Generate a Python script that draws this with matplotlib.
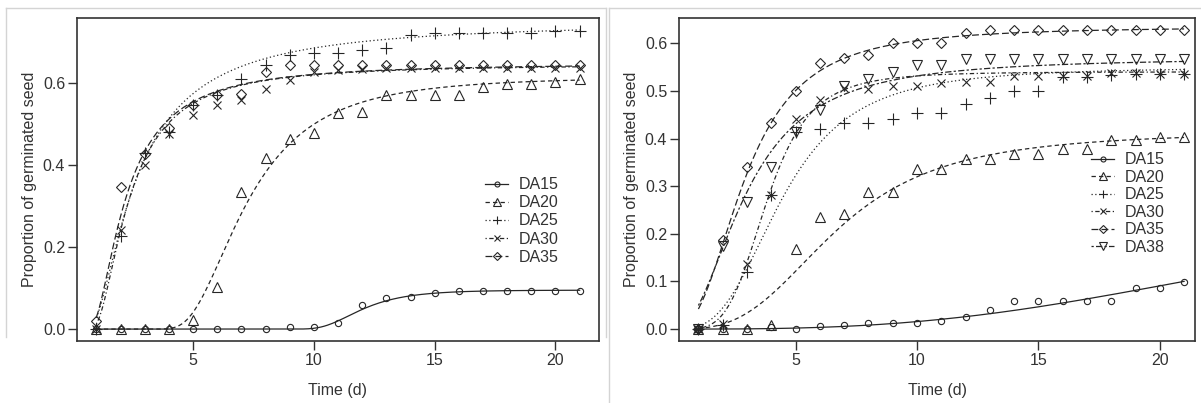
import numpy as np
import matplotlib
matplotlib.use('Agg')
import matplotlib.pyplot as plt
from matplotlib.lines import Line2D

plt.rcParams['font.family'] = ['Liberation Sans', 'DejaVu Sans']

days = list(range(1, 22))

# ---- left panel: observed proportions ----
left_names = ['DA15', 'DA20', 'DA25', 'DA30', 'DA35']
left_da15 = [0, 0, 0, 0, 0, 0, 0, 0, 0.005, 0.005, 0.014, 0.058, 0.075, 0.079, 0.087,
             0.093, 0.093, 0.093, 0.093, 0.093, 0.093]
left_da20 = [0, 0, 0, 0, 0.022, 0.103, 0.335, 0.416, 0.463, 0.478, 0.526, 0.53, 0.571,
             0.571, 0.571, 0.571, 0.59, 0.598, 0.598, 0.602, 0.609]
left_da25 = [0, 0.228, 0.43, 0.48, 0.546, 0.57, 0.609, 0.643, 0.667, 0.673, 0.673, 0.68,
             0.686, 0.716, 0.722, 0.722, 0.722, 0.722, 0.722, 0.727, 0.727]
left_da30 = [0, 0.241, 0.399, 0.475, 0.521, 0.546, 0.559, 0.586, 0.607, 0.627, 0.631,
             0.634, 0.635, 0.635, 0.635, 0.635, 0.635, 0.635, 0.635, 0.635, 0.635]
left_da35 = [0.02, 0.346, 0.426, 0.49, 0.546, 0.57, 0.574, 0.627, 0.643, 0.643, 0.643,
             0.643, 0.643, 0.643, 0.643, 0.643, 0.643, 0.643, 0.643, 0.643, 0.643]
# fitted Weibull (W1.3) curves: upper limit, time scale, slope
left_upper = [0.095, 0.615, 0.75, 0.645, 0.648]
left_scale = [11.53, 6.55, 2.15, 1.99, 1.844]
left_slope = [9.5, 3.7, 1.56, 1.99, 1.86]

# ---- right panel: observed proportions ----
right_names = ['DA15', 'DA20', 'DA25', 'DA30', 'DA35', 'DA38']
right_da15 = [0, 0, 0, 0.005, 0, 0.007, 0.008, 0.012, 0.012, 0.012, 0.018, 0.025, 0.041,
              0.059, 0.059, 0.059, 0.059, 0.059, 0.087, 0.087, 0.099]
right_da20 = [0, 0, 0, 0.008, 0.169, 0.235, 0.242, 0.287, 0.288, 0.337, 0.337, 0.356,
              0.356, 0.367, 0.367, 0.377, 0.377, 0.397, 0.397, 0.404, 0.404]
right_da25 = [0, 0.008, 0.12, 0.281, 0.414, 0.421, 0.432, 0.432, 0.44, 0.453, 0.453,
              0.472, 0.486, 0.5, 0.5, 0.53, 0.53, 0.533, 0.535, 0.535, 0.535]
right_da30 = [0, 0.01, 0.137, 0.281, 0.442, 0.481, 0.507, 0.505, 0.51, 0.51, 0.516,
              0.519, 0.519, 0.531, 0.531, 0.531, 0.531, 0.537, 0.537, 0.535, 0.535]
right_da35 = [0, 0.186, 0.34, 0.432, 0.5, 0.559, 0.568, 0.575, 0.6, 0.6, 0.6, 0.621,
              0.627, 0.627, 0.627, 0.627, 0.627, 0.627, 0.627, 0.627, 0.627]
right_da38 = [0, 0.174, 0.267, 0.34, 0.414, 0.46, 0.51, 0.524, 0.54, 0.554, 0.554,
              0.566, 0.566, 0.566, 0.566, 0.566, 0.566, 0.566, 0.566, 0.566, 0.566]
# fitted log-logistic (LL.3) curves: upper limit, t50, slope
right_upper = [0.3, 0.415, 0.55, 0.54, 0.635, 0.57]
right_t50 = [26.5, 6.7, 4.46, 3.83, 2.93, 2.97]
right_slope = [2.97, 3.02, 3.03, 4.3, 2.46, 2.16]


def weibull1(t, d, e, b):
    return d * np.exp(-(e / t) ** b)


def loglogistic(t, d, e, b):
    return d / (1 + (e / t) ** b)


# R lty 1..6 and pch 1..6
line_styles = ['-', (0, (3.5, 2.5)), (0, (1, 2)), (0, (1, 2, 3.5, 2)),
               (0, (5.5, 2.5)), (0, (1.8, 1.8, 5, 1.8))]
markers = ['o', '^', '+', 'x', 'D', 'v']
marker_sizes = [4.5, 6.5, 8, 6, 5.2, 6.5]
ink = '#262626'

W, H = 1201, 403
fig = plt.figure(figsize=(W / 100, H / 100), dpi=100)


def px_box(x0, x1, y0, y1):
    return [x0 / W, 1 - y1 / H, (x1 - x0) / W, (y1 - y0) / H]


def draw_panel(ax, names, series, model, upper, scale, slope, yticks, ylim, xlim):
    t = np.linspace(1, 21, 300)
    handles = []
    for i, name in enumerate(names):
        ax.plot(t, model(t, upper[i], scale[i], slope[i]), ls=line_styles[i],
                color=ink, lw=0.9)
        ax.plot(days, series[i], ls='none', marker=markers[i], ms=marker_sizes[i],
                mfc='none', mec=ink, mew=0.8)
        handles.append(Line2D([], [], ls=line_styles[i], color=ink, lw=0.9,
                              marker=markers[i], ms=marker_sizes[i] * 0.8,
                              mfc='none', mec=ink, mew=0.8, label=name))
    ax.set_xlim(*xlim)
    ax.set_ylim(*ylim)
    ax.set_xticks([5, 10, 15, 20])
    ax.set_yticks(yticks)
    ax.set_yticklabels(['%.1f' % v for v in yticks])
    ax.tick_params(length=6.5, width=1, pad=2, labelsize=11.5, colors='#333333',
                   color='#333333')
    for s in ax.spines.values():
        s.set_color('#333333')
        s.set_linewidth(1.2)
    ax.set_xlabel('Time (d)', fontsize=11.5, color='#333333')
    ax.set_ylabel('Proportion of germinated seed', fontsize=11.5, color='#333333')
    return handles


ax1 = fig.add_axes(px_box(77, 599, 18, 341))
h1 = draw_panel(ax1, left_names,
                [left_da15, left_da20, left_da25, left_da30, left_da35],
                weibull1, left_upper, left_scale, left_slope,
                [0.0, 0.2, 0.4, 0.6], (-0.029, 0.758), (0.2, 21.8))
ax1.xaxis.set_label_coords(0.5, -0.13)
ax1.yaxis.set_label_coords(-40 / 522, 0.5)
ax1.legend(handles=h1, loc='center left', bbox_to_anchor=(485 / W, 1 - 221 / H),
           bbox_transform=fig.transFigure, frameon=False, borderpad=0,
           borderaxespad=0, handlelength=1.45, handletextpad=0.65,
           labelspacing=0.2, fontsize=11.5, labelcolor='#333333')

ax2 = fig.add_axes(px_box(679, 1195, 18, 341))
h2 = draw_panel(ax2, right_names,
                [right_da15, right_da20, right_da25, right_da30, right_da35, right_da38],
                loglogistic, right_upper, right_t50, right_slope,
                [0.0, 0.1, 0.2, 0.3, 0.4, 0.5, 0.6], (-0.025, 0.653), (0.2, 21.45))
ax2.xaxis.set_label_coords(0.5, -0.13)
ax2.yaxis.set_label_coords(-40 / 516, 0.5)
ax2.legend(handles=h2, loc='center left', bbox_to_anchor=(1091 / W, 1 - 203.5 / H),
           bbox_transform=fig.transFigure, frameon=False, borderpad=0,
           borderaxespad=0, handlelength=1.45, handletextpad=0.65,
           labelspacing=0.16, fontsize=11.5, labelcolor='#333333')

# faint frame lines of the two pasted screenshots
grey = '#d4d4d4'
for xs, ys in [([6, 606], [8, 8]), ([6, 6], [8, 337]), ([606, 606], [8, 337]),
               ([609, 1201], [8, 8]), ([609, 609], [8, 403])]:
    fig.add_artist(Line2D([x / W for x in xs], [1 - y / H for y in ys],
                          transform=fig.transFigure, color=grey, lw=1))

fig.savefig('out.png', dpi=100)
plt.close(fig)
